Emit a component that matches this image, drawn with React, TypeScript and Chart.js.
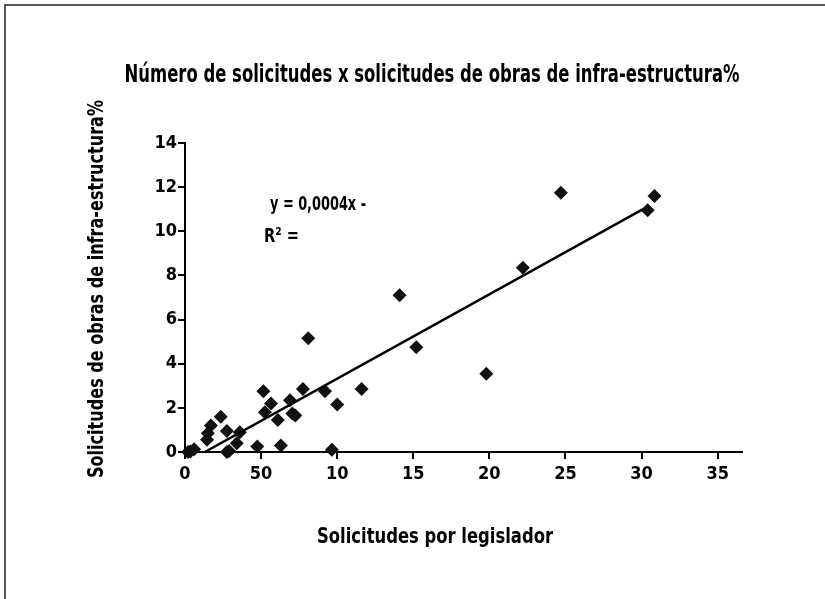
import React, { useEffect, useRef } from "react";
import { Chart, registerables } from "chart.js";

Chart.register(...registerables);

const FONT = "'DejaVu Sans Condensed', 'Liberation Sans Narrow', 'Arial Narrow', sans-serif";

const chartTitle = "Número de solicitudes x solicitudes de obras de infra-estructura%";
const xAxisTitle = "Solicitudes por legislador";
const yAxisTitle = "Solicitudes de obras de infra-estructura%";
const equationText = "y = 0,0004x -";
const r2Text = "R² =";

const xTickValues = [0, 5, 10, 15, 20, 25, 30, 35];
const xTickLabels = ["0", "50", "10", "15", "20", "25", "30", "35"];

const solicitudesPorLegislador = [
  0.2, 0.35, 0.6, 1.45, 1.5, 1.7, 2.35, 2.75, 2.75, 2.9, 3.4, 3.6, 4.75, 5.15, 5.25, 5.65, 6.1,
  6.3, 6.9, 7.05, 7.25, 7.75, 8.1, 9.2, 9.65, 10.0, 11.6, 14.1, 15.2, 19.8, 22.2, 24.7, 30.4, 30.85,
];
const obrasInfraPct = [
  0, 0.02, 0.12, 0.55, 0.85, 1.2, 1.6, 0.95, 0, 0.05, 0.4, 0.9, 0.25, 2.75, 1.8, 2.2, 1.45,
  0.3, 2.35, 1.75, 1.65, 2.85, 5.15, 2.75, 0.1, 2.15, 2.85, 7.1, 4.75, 3.55, 8.35, 11.75, 10.95, 11.6,
];

const trendX = [1.3, 30.1];
const trendY = [0, 11.0];

function fitText(
  ctx: CanvasRenderingContext2D,
  text: string,
  x: number,
  y: number,
  size: number,
  width: number,
  align: "center" | "left",
  rotate = false
) {
  ctx.save();
  ctx.font = `bold ${size}px ${FONT}`;
  const w = ctx.measureText(text).width;
  ctx.translate(x, y);
  if (rotate) ctx.rotate(-Math.PI / 2);
  ctx.scale(width / w, 1);
  ctx.textAlign = align;
  ctx.textBaseline = "alphabetic";
  ctx.fillStyle = "#000";
  ctx.fillText(text, 0, 0);
  ctx.restore();
}

const textPlugin = {
  id: "texts",
  beforeDraw(chart: any) {
    const ctx = chart.ctx as CanvasRenderingContext2D;
    ctx.save();
    ctx.fillStyle = "#fff";
    ctx.fillRect(0, 0, chart.width, chart.height);
    ctx.strokeStyle = "#555";
    ctx.lineWidth = 2;
    ctx.beginPath();
    ctx.moveTo(5, chart.height);
    ctx.lineTo(5, 5);
    ctx.lineTo(chart.width, 5);
    ctx.stroke();
    ctx.restore();
  },
  afterDraw(chart: any) {
    const ctx = chart.ctx as CanvasRenderingContext2D;
    fitText(ctx, chartTitle, 432, 82, 24, 615, "center");
    fitText(ctx, yAxisTitle, 103, 289, 21, 378, "center", true);
    fitText(ctx, xAxisTitle, 435, 543, 22, 236, "center");
    fitText(ctx, equationText, 270, 210, 20, 96, "left");
    fitText(ctx, r2Text, 264, 242, 20, 35, "left");
  },
};

export default function App() {
  const ref = useRef<HTMLCanvasElement | null>(null);

  useEffect(() => {
    if (!ref.current) return;
    const points = solicitudesPorLegislador.map((x, i) => ({ x, y: obrasInfraPct[i] }));
    const trend = trendX.map((x, i) => ({ x, y: trendY[i] }));
    const chart = new Chart(ref.current, {
      type: "scatter",
      data: {
        datasets: [
          {
            type: "line",
            data: trend,
            borderColor: "#000",
            borderWidth: 2.5,
            pointRadius: 0,
            fill: false,
          } as any,
          {
            data: points,
            pointStyle: "rectRot",
            pointRadius: 7,
            pointHoverRadius: 7,
            backgroundColor: "#111",
            borderColor: "#111",
            borderWidth: 0,
            clip: false,
          } as any,
        ],
      },
      options: {
        responsive: false,
        animation: false,
        layout: { padding: { top: 143, right: 83, left: 0, bottom: 0 } },
        plugins: {
          legend: { display: false },
          title: { display: false },
          tooltip: { enabled: false },
        },
        scales: {
          x: {
            type: "linear",
            min: 0,
            max: 36.6,
            afterFit(scale: any) {
              scale.height = 147;
            },
            afterBuildTicks(scale: any) {
              scale.ticks = xTickValues.map((v) => ({ value: v }));
            },
            ticks: {
              color: "#000",
              font: { family: FONT, size: 18, weight: "bold" },
              padding: 5,
              maxRotation: 0,
              callback: (v: any) => {
                const i = xTickValues.indexOf(Number(v));
                return i >= 0 ? xTickLabels[i] : "";
              },
            },
            grid: { display: true, drawOnChartArea: false, drawTicks: true, tickLength: 7, color: "#000", lineWidth: 2 },
            border: { display: true, color: "#000", width: 2 },
          },
          y: {
            type: "linear",
            min: 0,
            max: 14,
            afterFit(scale: any) {
              scale.width = 185;
            },
            ticks: {
              stepSize: 2,
              color: "#000",
              font: { family: FONT, size: 18, weight: "bold" },
              padding: 1,
            },
            grid: { display: true, drawOnChartArea: false, drawTicks: true, tickLength: 7, color: "#000", lineWidth: 2 },
            border: { display: true, color: "#000", width: 2 },
          },
        },
      },
      plugins: [textPlugin],
    });
    return () => chart.destroy();
  }, []);

  return (
    <canvas
      ref={ref}
      width={825}
      height={599}
      style={{ position: "absolute", left: 0, top: 0, display: "block", width: 825, height: 599 }}
    />
  );
}
